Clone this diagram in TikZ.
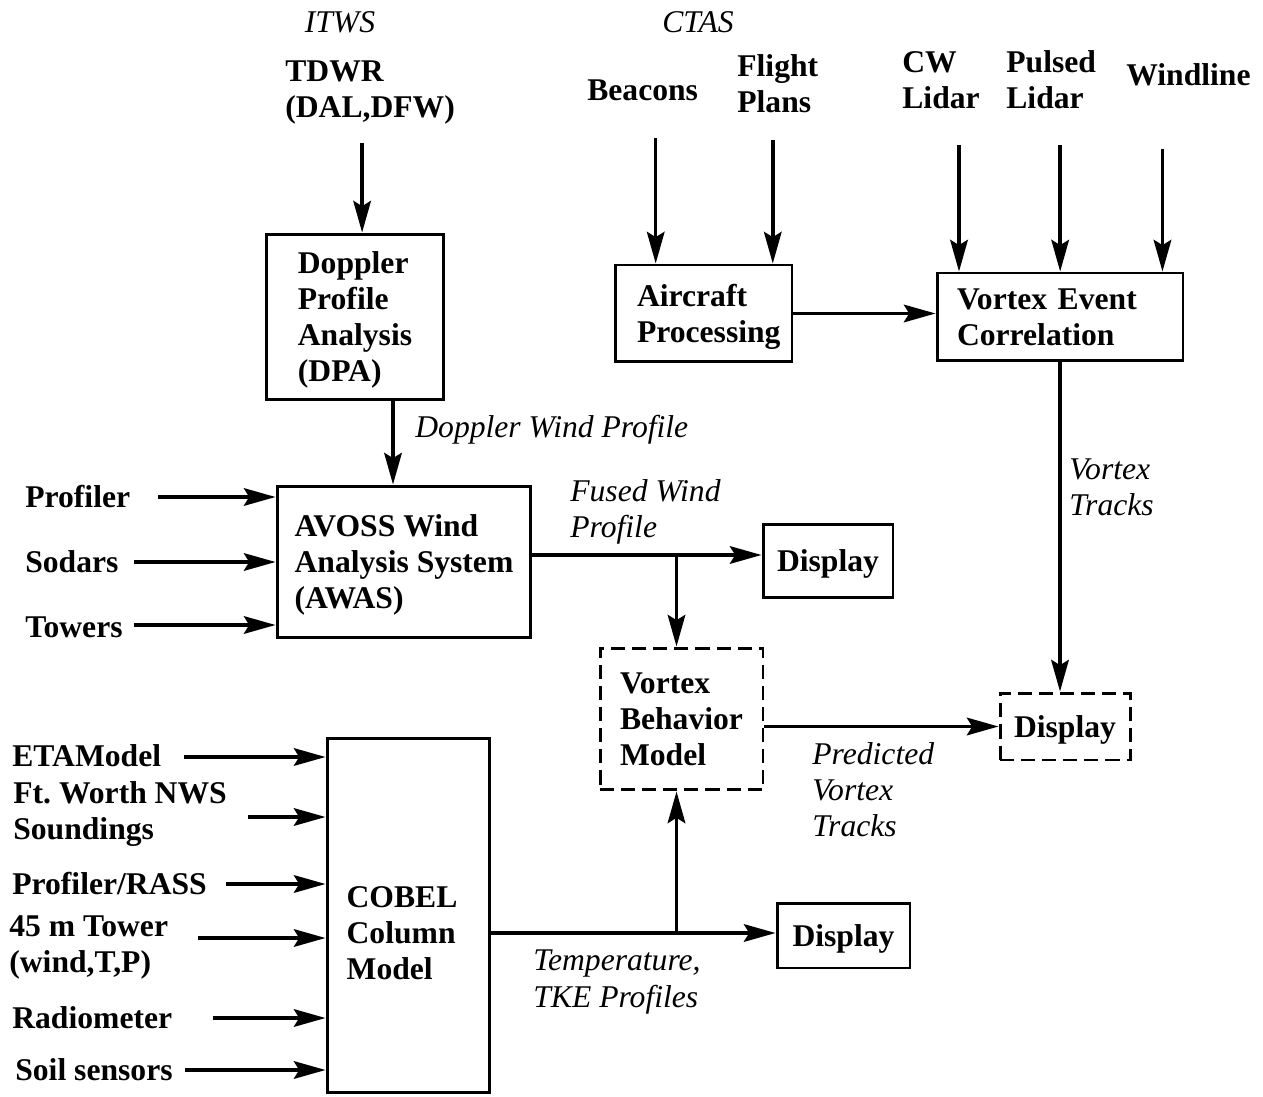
\documentclass[tikz,border=0pt]{standalone}
\usepackage{fontspec}
\setmainfont{Liberation Serif}
\usetikzlibrary{positioning, arrows.meta}

\begin{document}
\begin{tikzpicture}[
  x=0.02cm, y=-0.02cm,
  block/.style={draw, line width=1.7pt, align=left, inner sep=0pt, text depth=0pt,
                font=\fontsize{18}{20.5}\selectfont\bfseries},
  dblock/.style={block, dash pattern=on 8pt off 4pt},
  src/.style={inner sep=0pt, align=left, font=\fontsize{18}{20.5}\selectfont\bfseries},
  flow/.style={inner sep=0pt, align=left, font=\fontsize{18}{20.5}\selectfont\itshape},
  arr/.style={-{Stealth[length=18pt, width=10pt, inset=3pt]}, line width=2pt},
]
  \useasboundingbox (0,0) rectangle (1263,1097);

  % system headings
  \node[flow] (itws) at (340,22) {ITWS};
  \node[flow] (ctas) at (698,22) {CTAS};

  % processing blocks
  \node[block, minimum width=3.56cm, minimum height=3.32cm] (dpa)   at (355,317)     {Doppler\\Profile\\Analysis\\(DPA)};
  \node[block, minimum width=5.08cm, minimum height=3.04cm] (awas)  at (404,562)     {AVOSS Wind\\Analysis System\\(AWAS)};
  \node[block, minimum width=3.54cm, minimum height=1.94cm, text width=2.66cm, text depth=20.5pt] (ap) at (703.5,313.5) {Aircraft\\Processing};
  \node[block, minimum width=4.92cm, minimum height=1.76cm, text width=4.12cm, text depth=20.5pt] (vec) at (1060,317) {Vortex Event\\Correlation};
  \node[block, minimum width=2.6cm,  minimum height=1.46cm] (disp1) at (828,561)     {Display};
  \node[dblock, minimum width=3.26cm, minimum height=2.84cm] (vbm)  at (681.5,719)   {Vortex\\Behavior\\Model};
  \node[dblock, minimum width=2.6cm, minimum height=1.34cm] (disp2) at (1065,726.5)  {Display};
  \node[block, minimum width=3.26cm, minimum height=7.1cm]  (cobel) at (408.5,915.5) {};
  \node[src] (cobeltxt) at (402,933) {COBEL\\Column\\Model};
  \node[block, minimum width=2.66cm, minimum height=1.3cm]  (disp3) at (843.5,935.5) {Display};

  % data sources
  \node[src, anchor=west] (tdwr)       at (285,93)   {TDWR\\(DAL,DFW)};
  \node[src, anchor=west] (beacons)    at (587,90)   {Beacons};
  \node[src, anchor=west] (fplans)     at (737,84)   {Flight\\Plans};
  \node[src, anchor=west] (cwlidar)    at (902,80)   {CW\\Lidar};
  \node[src, anchor=west] (plidar)     at (1006,80)  {Pulsed\\Lidar};
  \node[src, anchor=west] (windline)   at (1126,75)  {Windline};
  \node[src, anchor=west] (profiler)   at (25,497)   {Profiler};
  \node[src, anchor=west] (sodars)     at (25,562)   {Sodars};
  \node[src, anchor=west] (towers)     at (25,627)   {Towers};
  \node[src, anchor=west] (eta)        at (12,756)   {ETAModel};
  \node[src, anchor=west] (ftworth)    at (13,814)   {Ft.\ Worth NWS\\Soundings};
  \node[src, anchor=west] (rass)       at (12,884)   {Profiler/RASS};
  \node[src, anchor=west] (tower45)    at (9,947)    {45 m Tower\\(wind,T,P)};
  \node[src, anchor=west] (radiometer) at (12,1018)  {Radiometer};
  \node[src, anchor=west] (soil)       at (15,1070)  {Soil sensors};

  % flow labels
  \node[flow, anchor=west] (dwp)     at (415,430) {Doppler Wind Profile};
  \node[flow, anchor=west] (fwp)     at (570,512) {Fused Wind\\Profile};
  \node[flow, anchor=west] (vtracks) at (1069,487) {Vortex\\Tracks};
  \node[flow, anchor=west] (pvt)     at (812,790) {Predicted\\Vortex\\Tracks};
  \node[flow, anchor=west] (tke)     at (533,982) {Temperature,\\TKE Profiles};

  % top inputs
  \draw[arr] ([shift={(-8,18)}]tdwr.south) -- ([shift={(-8,0)}]tdwr.south |- dpa.north);
  \draw[arr] ([shift={(13,37)}]beacons.south) -- ([shift={(13,0)}]beacons.south |- ap.north);
  \draw[arr] ([shift={(-5,27)}]fplans.south) -- ([shift={(-5,0)}]fplans.south |- ap.north);
  \draw[arr] ([shift={(18,36)}]cwlidar.south) -- ([shift={(18,0)}]cwlidar.south |- vec.north);
  \draw[arr] ([shift={(9,36)}]plidar.south) -- ([shift={(9,0)}]plidar.south |- vec.north);
  \draw[arr] ([shift={(-26,62)}]windline.south) -- ([shift={(-26,0)}]windline.south |- vec.north);

  % wind sensors
  \draw[arr] ([shift={(28,0)}]profiler.east) -- (profiler.east -| awas.west);
  \draw[arr] ([shift={(15,0)}]sodars.east) -- (sodars.east -| awas.west);
  \draw[arr] ([shift={(11,-2)}]towers.east) -- ([shift={(0,-2)}]towers.east -| awas.west);

  % column model inputs
  \draw[arr] ([shift={(23,1)}]eta.east) -- ([shift={(0,1)}]eta.east -| cobel.west);
  \draw[arr] ([shift={(21,3)}]ftworth.east) -- ([shift={(0,3)}]ftworth.east -| cobel.west);
  \draw[arr] ([shift={(19,0)}]rass.east) -- (rass.east -| cobel.west);
  \draw[arr] ([shift={(30,-9)}]tower45.east) -- ([shift={(0,-9)}]tower45.east -| cobel.west);
  \draw[arr] ([shift={(40,0)}]radiometer.east) -- (radiometer.east -| cobel.west);
  \draw[arr] ([shift={(12,0)}]soil.east) -- (soil.east -| cobel.west);

  % internal flows
  \draw[arr] ([shift={(38,0)}]dpa.south) -- ([shift={(38,0)}]dpa.south |- awas.north);
  \draw[arr] ([shift={(0,-7)}]awas.east) -- ([shift={(0,-7)}]awas.east -| disp1.west);
  \draw[arr] ([shift={(-5,-7)}]vbm.north |- awas.east) -- ([shift={(-5,0)}]vbm.north);
  \draw[arr] (ap.east) -- (ap.east -| vec.west);
  \draw[arr] (vec.south) -- (vec.south |- disp2.north);
  \draw[arr] (vbm.east |- disp2) -- (disp2.west);
  \draw[arr] (cobeltxt -| cobel.east) -- (cobeltxt -| disp3.west);
  \draw[arr] ([shift={(-5,0)}]vbm.south |- cobeltxt) -- ([shift={(-5,0)}]vbm.south);
\end{tikzpicture}
\end{document}
